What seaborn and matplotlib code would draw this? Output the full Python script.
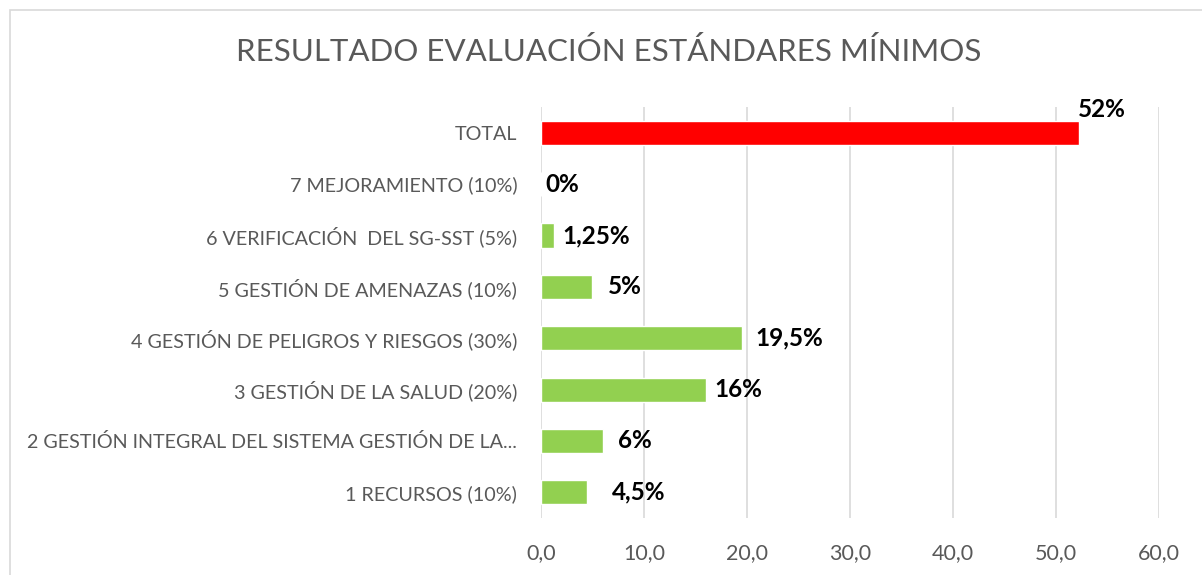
import matplotlib
matplotlib.use("Agg")
import matplotlib.pyplot as plt
import seaborn as sns
import pandas as pd
from matplotlib.patches import Rectangle

# data (top to bottom)
categories = ["TOTAL",
              "7 MEJORAMIENTO (10%)",
              "6 VERIFICACIÓN  DEL SG-SST (5%)",
              "5 GESTIÓN DE AMENAZAS (10%)",
              "4 GESTIÓN DE PELIGROS Y RIESGOS (30%)",
              "3 GESTIÓN DE LA SALUD (20%)",
              "2 GESTIÓN INTEGRAL DEL SISTEMA GESTIÓN DE LA...",
              "1 RECURSOS (10%)"]
values = [52.25, 0, 1.25, 5, 19.5, 16, 6, 4.5]
value_labels = ["52%", "0%", "1,25%", "5%", "19,5%", "16%", "6%", "4,5%"]
bar_colors = ["#FF0000"] + ["#92D050"] * 7
xticks = [0, 10, 20, 30, 40, 50, 60]

# label offsets in points (labels were nudged by hand in the original)
label_dx = [-1, 3, 6, 11, 10, 6, 11, 18]
label_dy = [17, 0, 0, 0, 0, 0, 0, 0]

df = pd.DataFrame({"categoria": categories, "valor": values})

sns.set_style("white")
plt.rcParams["font.family"] = ["Lato", "DejaVu Sans"]

fig = plt.figure(figsize=(12.02, 5.75), dpi=100)
ax = fig.add_axes([0.450, 0.099, 0.514, 0.715])

sns.barplot(data=df, x="valor", y="categoria", hue="categoria",
            palette=bar_colors, legend=False, orient="h", width=0.47,
            saturation=1, ax=ax)

ax.set_xlim(0, 60)
ax.set_xticks(xticks)
ax.set_xticklabels([f"{t:.1f}".replace(".", ",") for t in xticks])
ax.set_xlabel("")
ax.set_ylabel("")
ax.grid(axis="x", color="#D9D9D9", linewidth=1.2)
ax.set_axisbelow(True)
for s in ax.spines.values():
    s.set_visible(False)
ax.tick_params(axis="both", length=0, colors="#595959")
ax.tick_params(axis="y", pad=17, labelsize=14.25)
ax.tick_params(axis="x", pad=18, labelsize=15.5)

# value labels
for i, (v, lab) in enumerate(zip(values, value_labels)):
    ax.annotate(lab, xy=(v, i), xytext=(label_dx[i], label_dy[i]),
                textcoords="offset points", ha="left", va="center",
                fontsize=17.5, fontweight="bold", color="black")

fig.suptitle("RESULTADO EVALUACIÓN ESTÁNDARES MÍNIMOS", x=0.506, y=0.935,
             fontsize=22.5, color="#595959")

# chart frame
fig.patches.append(Rectangle((0.0083, -0.02), 1.0, 1.0 - 0.0174 + 0.02,
                             transform=fig.transFigure, fill=False,
                             edgecolor="#D9D9D9", linewidth=1.2))

fig.savefig("out.png", dpi=100)
